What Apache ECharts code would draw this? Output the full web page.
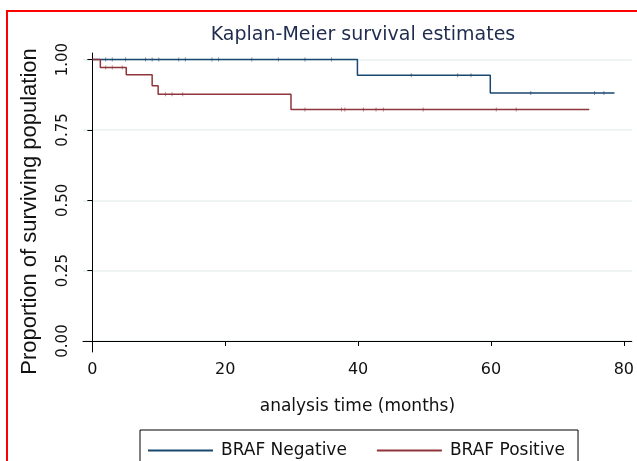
<!DOCTYPE html>
<html>
<head>
<meta charset="utf-8">
<script src="https://cdn.jsdelivr.net/npm/echarts@6/dist/echarts.min.js"></script>
<style>
  html, body { margin: 0; padding: 0; background: #fff; }
  #chart { width: 637px; height: 461px; }
</style>
</head>
<body>
<div id="chart"></div>
<script>
// step points: [time, survival after the event]
var negTimes = [0, 39.9, 59.9, 78.6];
var negSurv = [1.0, 0.944, 0.881, 0.881];
var posTimes = [0, 1.2, 5.1, 9.0, 9.9, 29.9, 74.8];
var posSurv = [1.0, 0.972, 0.946, 0.907, 0.877, 0.823, 0.823];
// censored observations (small tick marks)
var negCensor = [2, 3, 5, 8, 9, 10, 13, 14, 18, 19, 24, 28, 32, 36, 48, 55, 57, 66, 75.6, 77];
var posCensor = [2, 3, 4.5, 11, 12, 13.6, 32, 37.5, 38, 40.8, 42.7, 43.8, 49.8, 60.8, 63.8];
var xTicks = [0, 20, 40, 60, 80];
var yTicks = [0, 0.25, 0.5, 0.75, 1];

var negColor = "#1a476f";
var posColor = "#90353b";

function pairs(t, s) {
  return t.map(function(v, i) { return [v, s[i]]; });
}
function survAt(t, s, x) {
  var v = s[0];
  for (var i = 0; i < t.length; i++) {
    if (t[i] <= x) v = s[i];
  }
  return v;
}
function censorPts(c, t, s) {
  return c.map(function(x) { return [x, survAt(t, s, x)]; });
}

var myChart = echarts.init(document.getElementById("chart"));
var option = {
  animation: false,
  title: {
    text: "Kaplan-Meier survival estimates",
    left: 358,
    textAlign: "center",
    top: 21,
    textStyle: {
      color: "#1f2c4f",
      fontFamily: "DejaVu Sans",
      fontSize: 19,
      fontWeight: "normal"
    }
  },
  graphic: [
    {
      type: "rect",
      shape: { x: 7, y: 11, width: 700, height: 500 },
      style: { fill: "none", stroke: "#ff0000", lineWidth: 2 }
    }
  ],
  legend: {
    left: 140,
    top: 430,
    data: ["BRAF Negative", "BRAF Positive"],
    icon: "rect",
    itemWidth: 65,
    itemHeight: 2,
    itemGap: 30,
    padding: [12, 13, 12, 8],
    borderColor: "#000",
    borderWidth: 1,
    borderRadius: 0,
    textStyle: {
      color: "#111",
      fontFamily: "DejaVu Sans",
      fontSize: 17,
      padding: [0, 0, 0, 3]
    }
  },
  grid: {
    left: 83,
    top: 53,
    right: 3,
    bottom: 109,
    containLabel: false
  },
  xAxis: {
    type: "value",
    min: -1.41,
    max: 81.2,
    name: "analysis time (months)",
    nameLocation: "middle",
    nameGap: 46,
    nameTextStyle: {
      color: "#111",
      fontFamily: "DejaVu Sans",
      fontSize: 17
    },
    axisLine: { show: true, lineStyle: { color: "#000", width: 1 } },
    axisTick: { show: true, customValues: xTicks, length: 5, lineStyle: { color: "#000" } },
    axisLabel: {
      customValues: xTicks,
      margin: 10,
      color: "#111",
      fontFamily: "DejaVu Sans",
      fontSize: 16
    },
    splitLine: { show: false }
  },
  yAxis: {
    type: "value",
    min: -0.039,
    max: 1.0235,
    name: "Proportion of surviving population",
    nameLocation: "middle",
    nameGap: 42,
    nameTextStyle: {
      color: "#111",
      fontFamily: "Liberation Sans",
      fontSize: 22,
      padding: [0, 18, 0, 0]
    },
    axisLine: { show: true, lineStyle: { color: "#000", width: 1 } },
    axisTick: { show: true, customValues: yTicks, length: 5, lineStyle: { color: "#000" } },
    axisLabel: {
      customValues: yTicks,
      rotate: 90,
      margin: 12,
      color: "#111",
      fontFamily: "DejaVu Sans",
      fontSize: 15,
      formatter: function(v) { return v.toFixed(2); }
    },
    splitLine: { show: true, lineStyle: { color: "#e8f0f1", width: 1.5 } }
  },
  series: [
    {
      name: "BRAF Negative",
      type: "line",
      step: "end",
      showSymbol: false,
      data: pairs(negTimes, negSurv),
      lineStyle: { color: negColor, width: 1.5 },
      itemStyle: { color: negColor }
    },
    {
      name: "BRAF Positive",
      type: "line",
      step: "end",
      showSymbol: false,
      data: pairs(posTimes, posSurv),
      lineStyle: { color: posColor, width: 1.5 },
      itemStyle: { color: posColor }
    },
    {
      name: "neg censored",
      type: "scatter",
      symbol: "rect",
      symbolSize: [1, 4],
      data: censorPts(negCensor, negTimes, negSurv),
      itemStyle: { color: negColor, opacity: 0.6 }
    },
    {
      name: "pos censored",
      type: "scatter",
      symbol: "rect",
      symbolSize: [1, 4],
      data: censorPts(posCensor, posTimes, posSurv),
      itemStyle: { color: posColor, opacity: 0.6 }
    }
  ]
};
myChart.setOption(option);
window.addEventListener("resize", function() {
  myChart.resize();
});
</script>
</body>
</html>
